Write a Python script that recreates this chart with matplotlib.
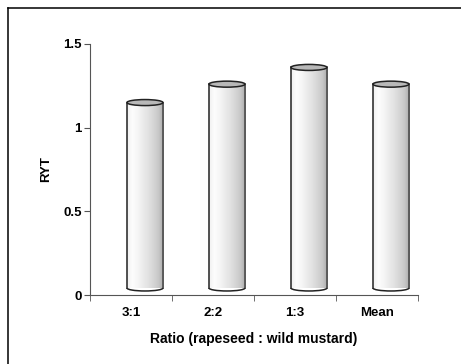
import numpy as np
import matplotlib.pyplot as plt
from matplotlib.patches import Ellipse, Arc
from matplotlib.colors import LinearSegmentedColormap

plt.rcParams['font.family'] = ['Liberation Sans', 'DejaVu Sans']

ratios = ['3:1', '2:2', '1:3', 'Mean']
ryt = [1.15, 1.26, 1.36, 1.26]
yticks = [0, 0.5, 1, 1.5]
ytick_labels = ['0', '0.5', '1', '1.5']

# shading across the face of each cylinder, light on the left, darker on the right
shade = LinearSegmentedColormap.from_list(
    'cyl', ['#f0f0f0', '#fdfdfd', '#f6f6f6', '#ececec', '#e2e2e2', '#d6d6d6', '#c8c8c8', '#a8a8a8'])
grad = np.linspace(0, 1, 200).reshape(1, -1)

fig = plt.figure(figsize=(4.61, 3.64), dpi=100)
fig.patch.set_facecolor('white')
# chart frame (left and top edges visible)
fig.add_artist(plt.Line2D([8/461, 8/461], [0, 1-8/364], color='black', lw=1.1, transform=fig.transFigure))
fig.add_artist(plt.Line2D([8/461, 1], [1-8/364, 1-8/364], color='black', lw=1.1, transform=fig.transFigure))

ax = fig.add_axes([90/461, 1-295/364, 328/461, 251/364])

shift = 0.17     # depth offset of the 3-D bars
half_w = 0.22
floor = 0.042
cap_h = 0.036

for i, v in enumerate(ryt):
    xc = i + shift
    x0, x1 = xc - half_w, xc + half_w
    ax.imshow(grad, cmap=shade, extent=[x0, x1, floor, v], aspect='auto', zorder=2, interpolation='bilinear')
    ax.plot([x0, x0], [floor, v], color='#222222', lw=1.1, zorder=3)
    ax.plot([x1, x1], [floor, v], color='#444444', lw=1.1, zorder=3)
    ax.add_patch(Arc((xc, floor), 2*half_w, cap_h, theta1=180, theta2=360, color='#222222', lw=1.1, zorder=3))
    ax.add_patch(Ellipse((xc, v), 2*half_w, cap_h, facecolor='#b8b8b8', edgecolor='#222222', lw=1.1, zorder=4))

ax.set_xlim(-0.5, 3.5)
ax.set_ylim(0, 1.5)
ax.set_yticks(yticks)
ax.set_yticklabels(ytick_labels, fontsize=9.5, fontweight='bold')
ax.set_xticks(np.arange(len(ratios)))
ax.set_xticklabels(ratios, fontsize=9.5, fontweight='bold')
ax.tick_params(axis='x', length=0, pad=9)
ax.set_xticks(np.arange(-0.5, len(ratios)), minor=True)
ax.tick_params(axis='x', which='minor', length=4, color='#555555', direction='out')
ax.tick_params(axis='y', length=4, color='#555555', pad=2)
for s in ['top', 'right']:
    ax.spines[s].set_visible(False)
ax.spines['left'].set_color('#555555')
ax.spines['bottom'].set_color('#555555')
ax.set_xlabel('Ratio (rapeseed : wild mustard)', fontsize=10, fontweight='bold', labelpad=9)
ax.set_ylabel('RYT', fontsize=9.5, fontweight='bold', labelpad=8)

plt.savefig('out.png', dpi=100)
plt.close()
